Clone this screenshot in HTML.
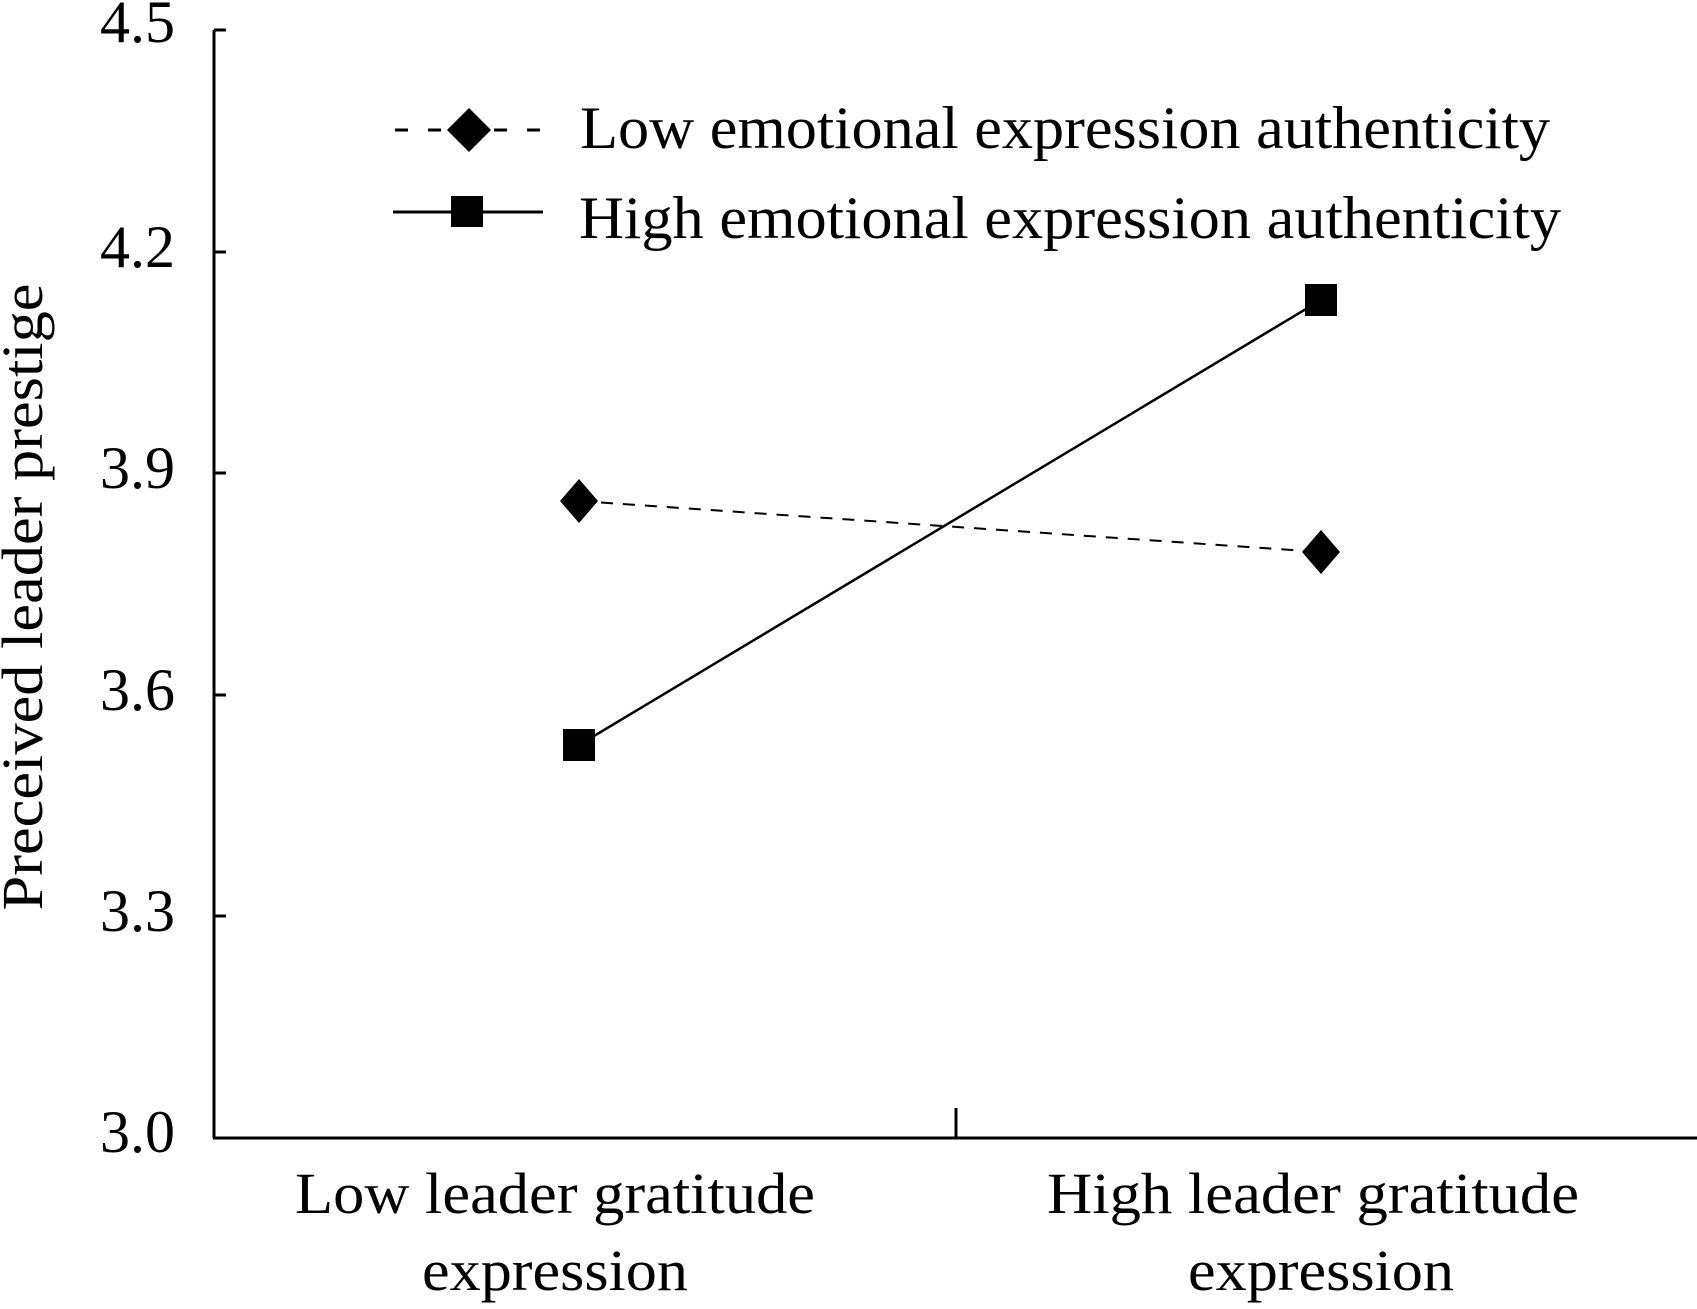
<!DOCTYPE html>
<html><head><meta charset="utf-8"><style>html,body{margin:0;padding:0;background:#fff}</style></head>
<body>
<svg width="1697" height="1304" viewBox="0 0 1697 1304" xmlns="http://www.w3.org/2000/svg" font-family="Liberation Serif, serif" fill="#000">
<g stroke="#000" stroke-width="3" fill="none">
<line x1="214" y1="30" x2="214" y2="1138"/>
<line x1="213" y1="1138" x2="1697" y2="1138"/>
<line x1="214" y1="30" x2="226" y2="30"/>
<line x1="214" y1="252" x2="226" y2="252"/>
<line x1="214" y1="473" x2="226" y2="473"/>
<line x1="214" y1="695" x2="226" y2="695"/>
<line x1="214" y1="916" x2="226" y2="916"/>
<line x1="956" y1="1108" x2="956" y2="1138"/>
</g>
<g font-size="60" text-anchor="end">
<text x="175" y="42">4.5</text>
<text x="175" y="267">4.2</text>
<text x="175" y="488">3.9</text>
<text x="175" y="710">3.6</text>
<text x="175" y="931">3.3</text>
<text x="175" y="1152">3.0</text>
</g>
<text transform="translate(42,597) rotate(-90)" font-size="58" text-anchor="middle" textLength="627" lengthAdjust="spacingAndGlyphs">Preceived leader prestige</text>
<g font-size="58" text-anchor="middle">
<text x="555" y="1213" textLength="520" lengthAdjust="spacingAndGlyphs">Low leader gratitude</text>
<text x="555" y="1290" textLength="266" lengthAdjust="spacingAndGlyphs">expression</text>
<text x="1313" y="1213" textLength="532" lengthAdjust="spacingAndGlyphs">High leader gratitude</text>
<text x="1321" y="1290" textLength="266" lengthAdjust="spacingAndGlyphs">expression</text>
</g>
<line x1="579" y1="501" x2="1321" y2="552" stroke="#000" stroke-width="2" stroke-dasharray="12,10"/>
<line x1="579" y1="745" x2="1321" y2="300" stroke="#000" stroke-width="2.5"/>
<polygon points="579,479 598,501 579,523 560,501"/>
<polygon points="1321,530 1340,552 1321,574 1302,552"/>
<rect x="563" y="729" width="32" height="32"/>
<rect x="1305" y="284" width="32" height="32"/>
<line x1="395" y1="130" x2="543" y2="130" stroke="#000" stroke-width="3" stroke-dasharray="13,20"/>
<polygon points="469,108 491,130 469,152 447,130"/>
<line x1="393" y1="212" x2="543" y2="212" stroke="#000" stroke-width="3"/>
<rect x="451" y="196" width="32" height="31"/>
<g font-size="60">
<text x="580" y="148" textLength="970" lengthAdjust="spacingAndGlyphs">Low emotional expression authenticity</text>
<text x="579" y="238" textLength="982" lengthAdjust="spacingAndGlyphs">High emotional expression authenticity</text>
</g>
</svg>
</body></html>
